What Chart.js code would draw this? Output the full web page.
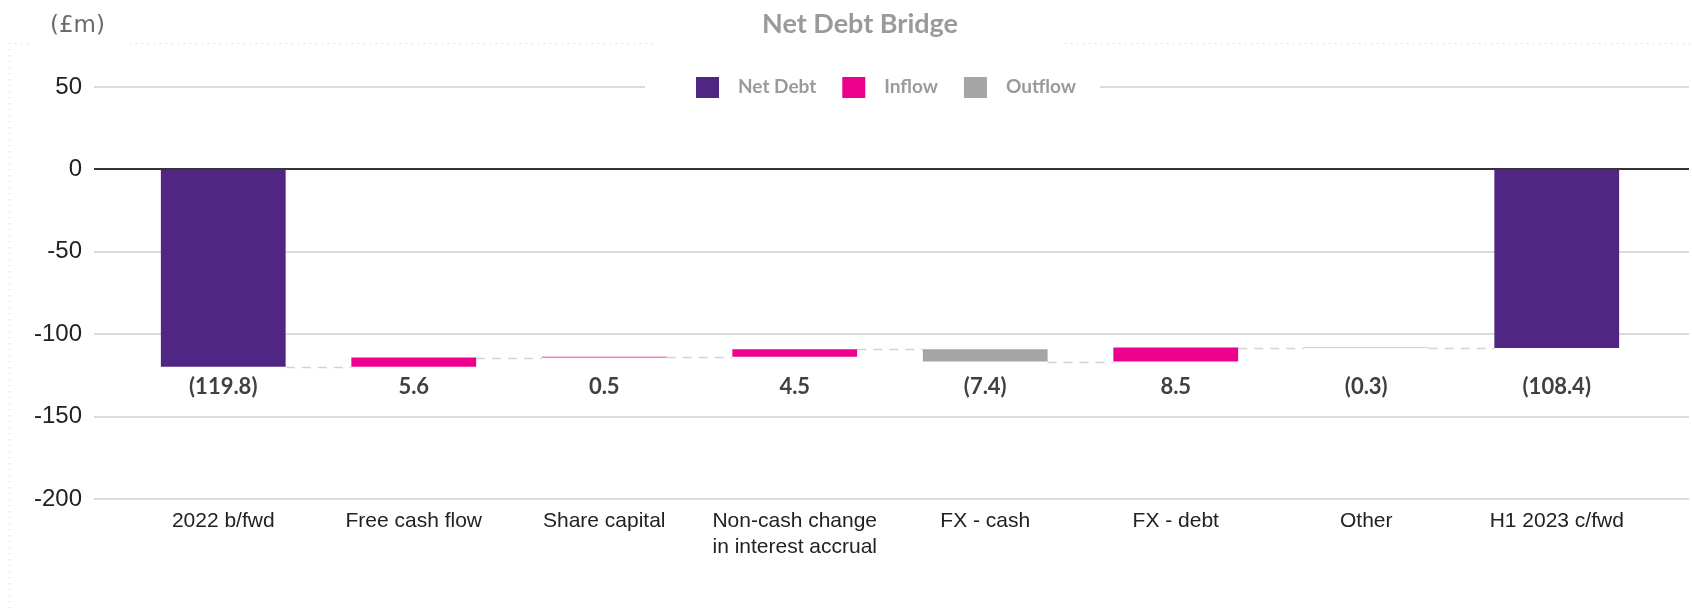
<!DOCTYPE html>
<html>
<head>
<meta charset="utf-8">
<title>Net Debt Bridge</title>
<script src="https://cdn.jsdelivr.net/npm/chart.js@4"></script>
<style>
  html, body { margin: 0; padding: 0; background: #ffffff; }
  #wrap { width: 1692px; height: 613px; position: relative; }
</style>
</head>
<body>
<div id="wrap"><canvas id="bridge" width="1692" height="613"></canvas></div>
<script>
// Bridge steps (£m). First and last entries are balances, the rest are movements.
const categories = [
  ['2022 b/fwd'],
  ['Free cash flow'],
  ['Share capital'],
  ['Non-cash change', 'in interest accrual'],
  ['FX - cash'],
  ['FX - debt'],
  ['Other'],
  ['H1 2023 c/fwd']
];
const movements = [-119.8, 5.6, 0.5, 4.5, -7.4, 8.5, -0.3, -108.4];
const isBalance = [true, false, false, false, false, false, false, true];
const valueLabels = ['(119.8)', '5.6', '0.5', '4.5', '(7.4)', '8.5', '(0.3)', '(108.4)'];
const yTicks = [50, 0, -50, -100, -150, -200];
const seriesNames = ['Net Debt', 'Inflow', 'Outflow'];
const seriesColors = ['#512583', '#EC008C', '#A5A5A5'];

// Build floating [start, end] ranges from the running total
const netDebtBars = [], inflowBars = [], outflowBars = [], levels = [];
let running = 0;
movements.forEach((v, i) => {
  if (isBalance[i]) {
    running = v;
    netDebtBars.push([0, v]); inflowBars.push(null); outflowBars.push(null);
  } else {
    const start = running;
    running = start + v;
    netDebtBars.push(null);
    inflowBars.push(v >= 0 ? [start, running] : null);
    outflowBars.push(v < 0 ? [start, running] : null);
  }
  levels.push(running);
});

const GRID_LEFT = 94, GRID_RIGHT = 1689;
const LEGEND_GAP = [645, 1100];

// Frame, unit note and title
const framePlugin = {
  id: 'frame',
  beforeDraw(chart) {
    const ctx = chart.ctx;
    ctx.save();
    ctx.fillStyle = '#ffffff';
    ctx.fillRect(0, 0, chart.width, chart.height);
    ctx.strokeStyle = '#d4d4d4';
    ctx.lineWidth = 1;
    ctx.setLineDash([1, 5]);
    ctx.beginPath();
    ctx.moveTo(9, 43.5); ctx.lineTo(30, 43.5);
    ctx.moveTo(130, 43.5); ctx.lineTo(658, 43.5);
    ctx.moveTo(1065, 43.5); ctx.lineTo(1692, 43.5);
    ctx.moveTo(9.5, 43); ctx.lineTo(9.5, 613);
    ctx.stroke();
    ctx.setLineDash([]);

    ctx.fillStyle = '#6b6b6b';
    ctx.font = '23px "DejaVu Sans"';
    ctx.textAlign = 'left';
    ctx.textBaseline = 'middle';
    ctx.fillText('(£m)', 50, 26);

    ctx.fillStyle = '#9a9a9a';
    ctx.font = 'bold 27px Lato';
    ctx.textAlign = 'center';
    ctx.fillText('Net Debt Bridge', 860, 24);
    ctx.restore();
  }
};

// Horizontal gridlines spanning the panel, zero line and step connectors
const gridPlugin = {
  id: 'bridgeGrid',
  beforeDatasetsDraw(chart) {
    const ctx = chart.ctx, y = chart.scales.y;
    ctx.save();
    yTicks.forEach(t => {
      const py = Math.round(y.getPixelForValue(t));
      ctx.beginPath();
      if (t === 0) {
        ctx.strokeStyle = '#333333';
        ctx.lineWidth = 2;
        ctx.moveTo(GRID_LEFT, py); ctx.lineTo(GRID_RIGHT, py);
      } else {
        ctx.strokeStyle = '#cfcfcf';
        ctx.lineWidth = 1.5;
        if (t === yTicks[0]) {
          ctx.moveTo(GRID_LEFT, py); ctx.lineTo(LEGEND_GAP[0], py);
          ctx.moveTo(LEGEND_GAP[1], py); ctx.lineTo(GRID_RIGHT, py);
        } else {
          ctx.moveTo(GRID_LEFT, py); ctx.lineTo(GRID_RIGHT, py);
        }
      }
      ctx.stroke();
    });

    // dashed connectors between consecutive bars at the running level
    const metas = chart.data.datasets.map((d, i) => chart.getDatasetMeta(i));
    const barAt = idx => {
      for (const m of metas) { if (m.data[idx] && chart.data.datasets[m.index].data[idx]) return m.data[idx]; }
      return null;
    };
    ctx.strokeStyle = '#d3d3d3';
    ctx.lineWidth = 1.5;
    ctx.setLineDash([9, 7]);
    for (let i = 0; i < levels.length - 1; i++) {
      const a = barAt(i), b = barAt(i + 1);
      if (!a || !b) continue;
      const py = Math.round(y.getPixelForValue(levels[i])) + 0.5;
      ctx.beginPath();
      ctx.moveTo(a.x + a.width / 2, py);
      ctx.lineTo(b.x - b.width / 2, py);
      ctx.stroke();
    }
    ctx.restore();
  },
  afterDatasetsDraw(chart) {
    const ctx = chart.ctx, x = chart.scales.x;
    ctx.save();
    // value labels under the bars
    ctx.fillStyle = '#404040';
    ctx.font = 'bold 22px Lato, sans-serif';
    ctx.textAlign = 'center';
    ctx.textBaseline = 'middle';
    valueLabels.forEach((txt, i) => {
      ctx.fillText(txt, x.getPixelForValue(i), chart.chartArea.top + 300);
    });

    // legend centred on the top gridline
    ctx.font = 'bold 19px Lato';
    const box = 23, textGap = 19, itemGap = 26;
    const widths = seriesNames.map(n => box + textGap + ctx.measureText(n).width);
    const total = widths.reduce((s, w) => s + w, 0) + itemGap * (widths.length - 1);
    let cx = 886 - total / 2;
    const ly = chart.chartArea.top;
    ctx.textAlign = 'left';
    seriesNames.forEach((n, i) => {
      ctx.fillStyle = seriesColors[i];
      ctx.fillRect(cx, ly - 10, box, 21);
      ctx.fillStyle = '#9a9a9a';
      ctx.fillText(n, cx + box + textGap, ly);
      cx += widths[i] + itemGap;
    });
    ctx.restore();
  }
};

new Chart(document.getElementById('bridge'), {
  type: 'bar',
  data: {
    labels: categories,
    datasets: [
      { label: seriesNames[0], data: netDebtBars, backgroundColor: seriesColors[0] },
      { label: seriesNames[1], data: inflowBars, backgroundColor: seriesColors[1] },
      { label: seriesNames[2], data: outflowBars, backgroundColor: seriesColors[2] }
    ]
  },
  options: {
    responsive: false,
    animation: false,
    devicePixelRatio: 1,
    layout: { padding: { top: 87, right: 40, bottom: 0, left: 0 } },
    datasets: { bar: { grouped: false, categoryPercentage: 1, barPercentage: 0.655, borderWidth: 0 } },
    plugins: {
      legend: { display: false },
      title: { display: false },
      tooltip: { enabled: false }
    },
    scales: {
      x: {
        grid: { display: false, drawTicks: false },
        border: { display: false },
        ticks: {
          color: '#222222',
          font: { family: '"Liberation Sans", Arial, sans-serif', size: 21 },
          padding: 10,
          maxRotation: 0,
          autoSkip: false
        },
        afterFit(scale) { scale.height = 114; }
      },
      y: {
        min: -200,
        max: 50,
        grid: { display: false, drawTicks: false },
        border: { display: false },
        ticks: {
          stepSize: 50,
          color: '#222222',
          font: { family: '"Liberation Sans", Arial, sans-serif', size: 24 },
          padding: 46
        },
        afterFit(scale) { scale.width = 128; }
      }
    }
  },
  plugins: [framePlugin, gridPlugin]
});
</script>
</body>
</html>
